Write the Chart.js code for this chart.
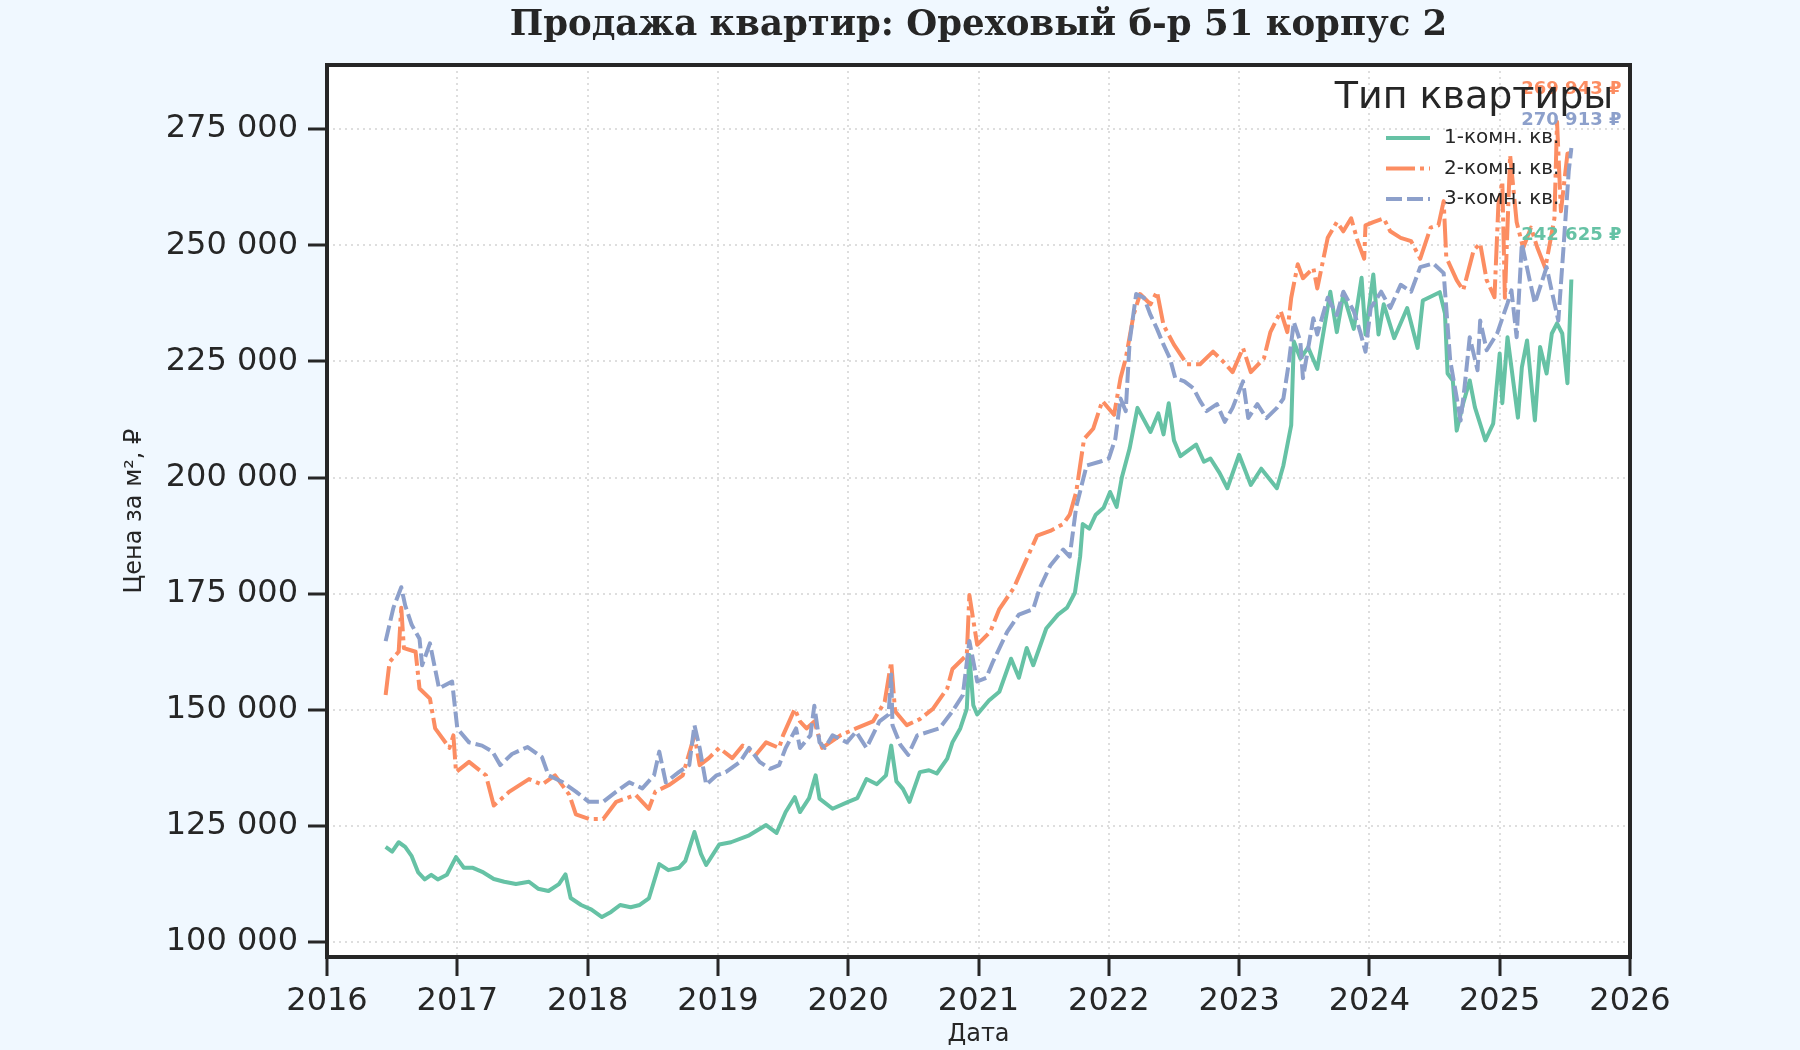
<!DOCTYPE html>
<html lang="ru">
<head>
<meta charset="utf-8">
<title>Продажа квартир: Ореховый б-р 51 корпус 2</title>
<script src="https://cdn.jsdelivr.net/npm/chart.js@4.4.1/dist/chart.umd.min.js"></script>
<style>
  html, body { margin: 0; padding: 0; background: #f0f8ff; }
  canvas { display: block; }
</style>
</head>
<body>
<canvas id="priceChart" width="1800" height="1050"></canvas>
<script>
// Dates are decimal years, prices in thousand rubles per m²
const seriesNames = ['1-комн. кв.', '2-комн. кв.', '3-комн. кв.'];

const datesOne = [2016.45, 2016.50, 2016.55, 2016.60, 2016.65, 2016.70, 2016.75, 2016.80, 2016.85, 2016.92,
  2016.99, 2017.05, 2017.12, 2017.20, 2017.28, 2017.36, 2017.45, 2017.55, 2017.62, 2017.70,
  2017.78, 2017.83, 2017.87, 2017.95, 2018.03, 2018.11, 2018.18, 2018.25, 2018.33, 2018.40,
  2018.47, 2018.55, 2018.62, 2018.70, 2018.75, 2018.82, 2018.87, 2018.91, 2019.01, 2019.10,
  2019.24, 2019.37, 2019.45, 2019.52, 2019.59, 2019.63, 2019.70, 2019.75, 2019.78, 2019.88,
  2020.00, 2020.07, 2020.14, 2020.22, 2020.29, 2020.33, 2020.37, 2020.42, 2020.47, 2020.55,
  2020.62, 2020.68, 2020.76, 2020.80, 2020.86, 2020.91, 2020.93, 2020.96, 2020.99, 2021.08,
  2021.16, 2021.25, 2021.31, 2021.37, 2021.42, 2021.52, 2021.61, 2021.68, 2021.74, 2021.78,
  2021.80, 2021.85, 2021.90, 2021.96, 2022.01, 2022.06, 2022.10, 2022.16, 2022.22, 2022.32,
  2022.38, 2022.42, 2022.46, 2022.50, 2022.55, 2022.67, 2022.73, 2022.78, 2022.85, 2022.91,
  2023.00, 2023.09, 2023.17, 2023.29, 2023.34, 2023.40, 2023.42, 2023.47, 2023.53, 2023.60,
  2023.70, 2023.75, 2023.80, 2023.88, 2023.94, 2023.97, 2024.03, 2024.07, 2024.11, 2024.19,
  2024.29, 2024.37, 2024.41, 2024.54, 2024.58, 2024.60, 2024.64, 2024.67, 2024.72, 2024.77,
  2024.81, 2024.89, 2024.95, 2025.00, 2025.02, 2025.06, 2025.14, 2025.17, 2025.21, 2025.27,
  2025.31, 2025.36, 2025.40, 2025.44, 2025.48, 2025.52, 2025.55];
const pricesOne = [120.5, 119.5, 121.5, 120.5, 118.5, 115, 113.5, 114.5, 113.5, 114.5,
  118.3, 116, 116, 115, 113.6, 113, 112.5, 113, 111.5, 111,
  112.5, 114.6, 109.5, 108, 107, 105.4, 106.5, 108, 107.5, 108,
  109.4, 116.8, 115.5, 116, 117.5, 123.7, 119, 116.6, 121, 121.5,
  123, 125.2, 123.5, 128, 131.2, 128, 131, 135.9, 130.9, 128.7,
  130.2, 131, 135.1, 134, 135.9, 142.3, 134.6, 133, 130.2, 136.6,
  137, 136.3, 139.5, 143, 146, 150.2, 161.8, 151, 149, 152,
  153.9, 161, 156.9, 163.3, 159.6, 167.5, 170.5, 172, 175.2, 183,
  190, 189, 192, 193.5, 196.9, 193.7, 200, 206.3, 215, 209.8,
  213.8, 209.3, 216, 208, 204.6, 207.1, 203.4, 204.1, 201, 197.7,
  204.9, 198.4, 201.9, 197.7, 202.6, 211.3, 229.3, 225.6, 228, 223.4,
  240, 231.3, 239.5, 232, 243, 230.8, 243.7, 230.8, 237.3, 230,
  236.5, 227.9, 238.1, 239.9, 235.3, 222.4, 220.9, 210.1, 216, 220.9,
  215.1, 208, 211.6, 226.7, 216, 230.2, 212.9, 223.7, 229.5, 212.3,
  228.1, 222.4, 231, 233.2, 231, 220.3, 242.625];

const datesTwo = [2016.45, 2016.48, 2016.55, 2016.57, 2016.59, 2016.68, 2016.71, 2016.79, 2016.83, 2016.94,
  2016.97, 2016.99, 2017.09, 2017.22, 2017.28, 2017.40, 2017.55, 2017.65, 2017.75, 2017.86,
  2017.91, 2018.01, 2018.12, 2018.22, 2018.37, 2018.47, 2018.52, 2018.63, 2018.73, 2018.82,
  2018.86, 2018.93, 2019.01, 2019.11, 2019.19, 2019.29, 2019.37, 2019.47, 2019.50, 2019.59,
  2019.63, 2019.68, 2019.74, 2019.80, 2019.94, 2020.06, 2020.19, 2020.28, 2020.33, 2020.36,
  2020.45, 2020.55, 2020.65, 2020.76, 2020.80, 2020.91, 2020.93, 2020.99, 2021.09, 2021.16,
  2021.27, 2021.33, 2021.45, 2021.55, 2021.65, 2021.70, 2021.75, 2021.81, 2021.88, 2021.95,
  2022.04, 2022.09, 2022.13, 2022.19, 2022.24, 2022.32, 2022.37, 2022.42, 2022.50, 2022.60,
  2022.70, 2022.80, 2022.88, 2022.95, 2023.03, 2023.09, 2023.19, 2023.24, 2023.32, 2023.37,
  2023.40, 2023.45, 2023.49, 2023.57, 2023.60, 2023.68, 2023.75, 2023.80, 2023.86, 2023.91,
  2023.96, 2023.97, 2024.03, 2024.11, 2024.16, 2024.24, 2024.32, 2024.39, 2024.47, 2024.53,
  2024.57, 2024.59, 2024.67, 2024.72, 2024.80, 2024.85, 2024.90, 2024.96, 2024.99, 2025.02,
  2025.04, 2025.08, 2025.13, 2025.18, 2025.24, 2025.29, 2025.35, 2025.42, 2025.44, 2025.47,
  2025.52, 2025.55];
const pricesTwo = [153.2, 160.3, 162.5, 172, 163.3, 162.5, 154.6, 152.4, 146, 141.8,
  144.5, 136.6, 138.8, 135.9, 129.4, 132.4, 135.1, 133.9, 135.9, 131.7,
  127.5, 126.5, 126.5, 130.2, 131.7, 128.7, 132.4, 133.9, 135.9, 144.5,
  138.1, 139.6, 141.8, 139.6, 142.3, 140.3, 143, 141.8, 144.5, 150.2,
  147.5, 146, 147.5, 141.8, 144.5, 146, 147.5, 151.7, 160.3, 149.7,
  146.7, 148, 150.2, 154.6, 158.8, 161.8, 174.7, 164, 166.8, 171.7,
  176.2, 180, 187.5, 188.5, 190, 192, 196.9, 208.3, 210.5, 216.5,
  213.5, 221.4, 225.6, 235, 239.5, 237.3, 240, 232.8, 228.6, 224.4,
  224.4, 227.1, 224.9, 222.7, 227.9, 222.7, 225.6, 231.3, 235.8, 231.3,
  238.7, 245.9, 242.9, 245.1, 240.7, 251.6, 255, 253, 255.8, 250.9,
  247.1, 254.3, 255, 255.8, 253, 251.6, 250.9, 247.1, 253.8, 254.3,
  259.5, 247.4, 242.5, 240.3, 248.9, 250.4, 242.5, 238.8, 258.8, 263.7,
  238.7, 269.4, 255, 249.4, 253.8, 249.4, 245.1, 255.8, 276.6, 257.3,
  269.7, 269.943];

const datesThree = [2016.45, 2016.51, 2016.57, 2016.60, 2016.65, 2016.71, 2016.73, 2016.79, 2016.86, 2016.96,
  2017.00, 2017.09, 2017.19, 2017.27, 2017.33, 2017.42, 2017.54, 2017.65, 2017.70, 2017.81,
  2017.91, 2018.01, 2018.12, 2018.22, 2018.32, 2018.42, 2018.51, 2018.55, 2018.60, 2018.70,
  2018.78, 2018.82, 2018.86, 2018.91, 2018.99, 2019.06, 2019.17, 2019.24, 2019.32, 2019.40,
  2019.47, 2019.52, 2019.60, 2019.63, 2019.71, 2019.74, 2019.78, 2019.82, 2019.88, 2019.99,
  2020.06, 2020.14, 2020.24, 2020.31, 2020.33, 2020.34, 2020.40, 2020.46, 2020.53, 2020.62,
  2020.70, 2020.80, 2020.88, 2020.93, 2020.99, 2021.06, 2021.11, 2021.22, 2021.31, 2021.42,
  2021.47, 2021.55, 2021.65, 2021.70, 2021.75, 2021.83, 2021.93, 2022.00, 2022.05, 2022.09,
  2022.13, 2022.16, 2022.21, 2022.27, 2022.32, 2022.37, 2022.42, 2022.47, 2022.51, 2022.58,
  2022.65, 2022.70, 2022.75, 2022.83, 2022.89, 2022.95, 2023.03, 2023.07, 2023.14, 2023.21,
  2023.29, 2023.34, 2023.38, 2023.42, 2023.47, 2023.49, 2023.57, 2023.60, 2023.68, 2023.75,
  2023.80, 2023.88, 2023.93, 2023.97, 2024.01, 2024.09, 2024.16, 2024.24, 2024.32, 2024.39,
  2024.49, 2024.57, 2024.62, 2024.67, 2024.70, 2024.73, 2024.77, 2024.83, 2024.85, 2024.90,
  2024.98, 2025.06, 2025.09, 2025.13, 2025.17, 2025.23, 2025.27, 2025.36, 2025.41, 2025.45,
  2025.49, 2025.53, 2025.55];
const pricesThree = [164.8, 172, 176.4, 172.5, 168.3, 165.3, 159.6, 164.3, 154.6, 156.1,
  146, 143, 142.3, 141, 138.1, 140.5, 142, 139.8, 135.9, 134.4,
  132.4, 130.2, 130.2, 132.4, 134.4, 133.1, 135.9, 141, 134.4, 136.6,
  138.1, 146.7, 141.8, 133.9, 135.9, 136.6, 138.8, 141.8, 138.8, 137.3,
  138.1, 141.8, 146, 141.8, 144.5, 150.9, 143, 141.8, 144.5, 143,
  145.3, 141.8, 147.5, 149, 157.6, 146.7, 142.5, 140.3, 144.5, 145.3,
  146, 149.7, 153.2, 164.8, 156.1, 156.9, 160.3, 166.8, 170.5, 171.7,
  176.2, 181, 184.5, 183, 193.7, 202.6, 203.4, 204.1, 208.3, 217,
  214.3, 229.3, 239.5, 238.7, 235, 232, 228.6, 225.6, 221.4, 220.7,
  219.2, 216.5, 214.3, 215.8, 212, 215, 220.7, 212.8, 215.8, 212.8,
  215, 217, 224.4, 233.5, 229.3, 221.4, 234.3, 230.8, 238.7, 235,
  240, 235.8, 231.3, 227.1, 236.5, 240, 236.5, 241.5, 240, 245.3,
  246.1, 244, 225.2, 217.2, 212.3, 219.4, 230.2, 223.1, 233.8, 227.4,
  231, 237.5, 240.3, 230.2, 250.4, 242.5, 237.5, 245.3, 238.8, 233.8,
  249.6, 266, 270.913];

const xTicks = [2016, 2017, 2018, 2019, 2020, 2021, 2022, 2023, 2024, 2025, 2026];
const yTicks = [100000, 125000, 150000, 175000, 200000, 225000, 250000, 275000];

(function () {
  const ink = '#262626';
  const colors = ['#66c2a5', '#fc8d62', '#8da0cb'];
  const dashes = [[], [29, 5, 4, 5], [16, 5]];
  const labelLift = [-44, -63, -28];   // end-value labels sit above the last point
  const sans = '"DejaVu Sans", sans-serif';

  const fmt = v => String(Math.round(v)).replace(/\B(?=(\d{3})+(?!\d))/g, ' ');
  const points = (xs, ys) => xs.map((x, i) => ({ x: x, y: Math.round(ys[i] * 1000) }));

  const series = [
    points(datesOne, pricesOne),
    points(datesTwo, pricesTwo),
    points(datesThree, pricesThree)
  ];

  Chart.defaults.font.family = sans;
  Chart.defaults.color = ink;

  const decor = {
    id: 'decor',
    beforeDraw(chart) {
      const { ctx, chartArea: a } = chart;
      ctx.save();
      ctx.fillStyle = '#f0f8ff';
      ctx.fillRect(0, 0, chart.width, chart.height);
      ctx.fillStyle = '#ffffff';
      ctx.fillRect(a.left, a.top, a.right - a.left, a.bottom - a.top);
      ctx.restore();
    },
    afterDraw(chart) {
      const { ctx, chartArea: a } = chart;
      ctx.save();

      // end labels
      ctx.font = 'bold 18px ' + sans;
      ctx.textAlign = 'center';
      ctx.textBaseline = 'middle';
      series.forEach((s, i) => {
        const meta = chart.getDatasetMeta(i);
        const el = meta.data[meta.data.length - 1];
        ctx.fillStyle = colors[i];
        ctx.fillText(fmt(s[s.length - 1].y) + ' ₽', el.x, el.y + labelLift[i]);
      });

      // frame
      ctx.strokeStyle = ink;
      ctx.lineWidth = 4;
      ctx.strokeRect(a.left, a.top, a.right - a.left, a.bottom - a.top);

      // legend
      const cx = a.right - 156;
      ctx.fillStyle = ink;
      ctx.font = '38px ' + sans;
      ctx.fillText('Тип квартиры', cx, a.top + 33);
      ctx.font = '20px ' + sans;
      ctx.textAlign = 'left';
      seriesNames.forEach((name, i) => {
        const y = a.top + 73 + i * 30.5;
        ctx.beginPath();
        ctx.strokeStyle = colors[i];
        ctx.lineWidth = 4;
        ctx.lineCap = 'butt';
        ctx.setLineDash(dashes[i]);
        ctx.moveTo(a.right - 244, y);
        ctx.lineTo(a.right - 200, y);
        ctx.stroke();
        ctx.setLineDash([]);
        ctx.fillStyle = ink;
        ctx.fillText(name, a.right - 186, y);
      });

      // titles
      ctx.textAlign = 'center';
      ctx.textBaseline = 'alphabetic';
      ctx.font = 'bold 35.5px "DejaVu Serif", serif';
      ctx.fillText('Продажа квартир: Ореховый б-р 51 корпус 2', (a.left + a.right) / 2, 35);

      ctx.textBaseline = 'middle';
      ctx.font = '24px ' + sans;
      ctx.fillText('Дата', (a.left + a.right) / 2, 1035);
      ctx.translate(135, (a.top + a.bottom) / 2);
      ctx.rotate(-Math.PI / 2);
      ctx.fillText('Цена за м², ₽', 0, 0);
      ctx.restore();
    }
  };

  new Chart(document.getElementById('priceChart').getContext('2d'), {
    type: 'line',
    data: {
      datasets: series.map((s, i) => ({
        label: seriesNames[i],
        data: s,
        borderColor: colors[i],
        backgroundColor: colors[i],
        borderWidth: 4,
        borderDash: dashes[i],
        borderCapStyle: 'butt',
        borderJoinStyle: 'round',
        pointRadius: 0,
        tension: 0,
        order: 2 - i
      }))
    },
    options: {
      responsive: false,
      devicePixelRatio: 1,
      animation: false,
      layout: { padding: { top: 65, right: 170, left: 0, bottom: 0 } },
      plugins: { legend: { display: false }, title: { display: false }, tooltip: { enabled: false } },
      scales: {
        x: {
          type: 'linear',
          min: 2016,
          max: 2026,
          afterFit: s => { s.height = 93; },
          afterBuildTicks: s => { s.ticks = xTicks.map(v => ({ value: v })); },
          border: { display: false, dash: [2, 4] },
          grid: { color: '#dedede', lineWidth: 2, tickColor: ink, tickLength: 19, tickWidth: 3 },
          ticks: { font: { size: 32 }, color: ink, padding: 6, autoSkip: false, maxRotation: 0, callback: v => String(v) }
        },
        y: {
          min: 96800,
          max: 288800,
          afterFit: s => { s.width = 327; },
          afterBuildTicks: s => { s.ticks = yTicks.map(v => ({ value: v })); },
          border: { display: false, dash: [2, 4] },
          grid: { color: '#dedede', lineWidth: 2, tickColor: ink, tickLength: 19, tickWidth: 3 },
          ticks: { font: { size: 32 }, color: ink, padding: 10, callback: v => fmt(v) }
        }
      }
    },
    plugins: [decor]
  });
})();
</script>
</body>
</html>
